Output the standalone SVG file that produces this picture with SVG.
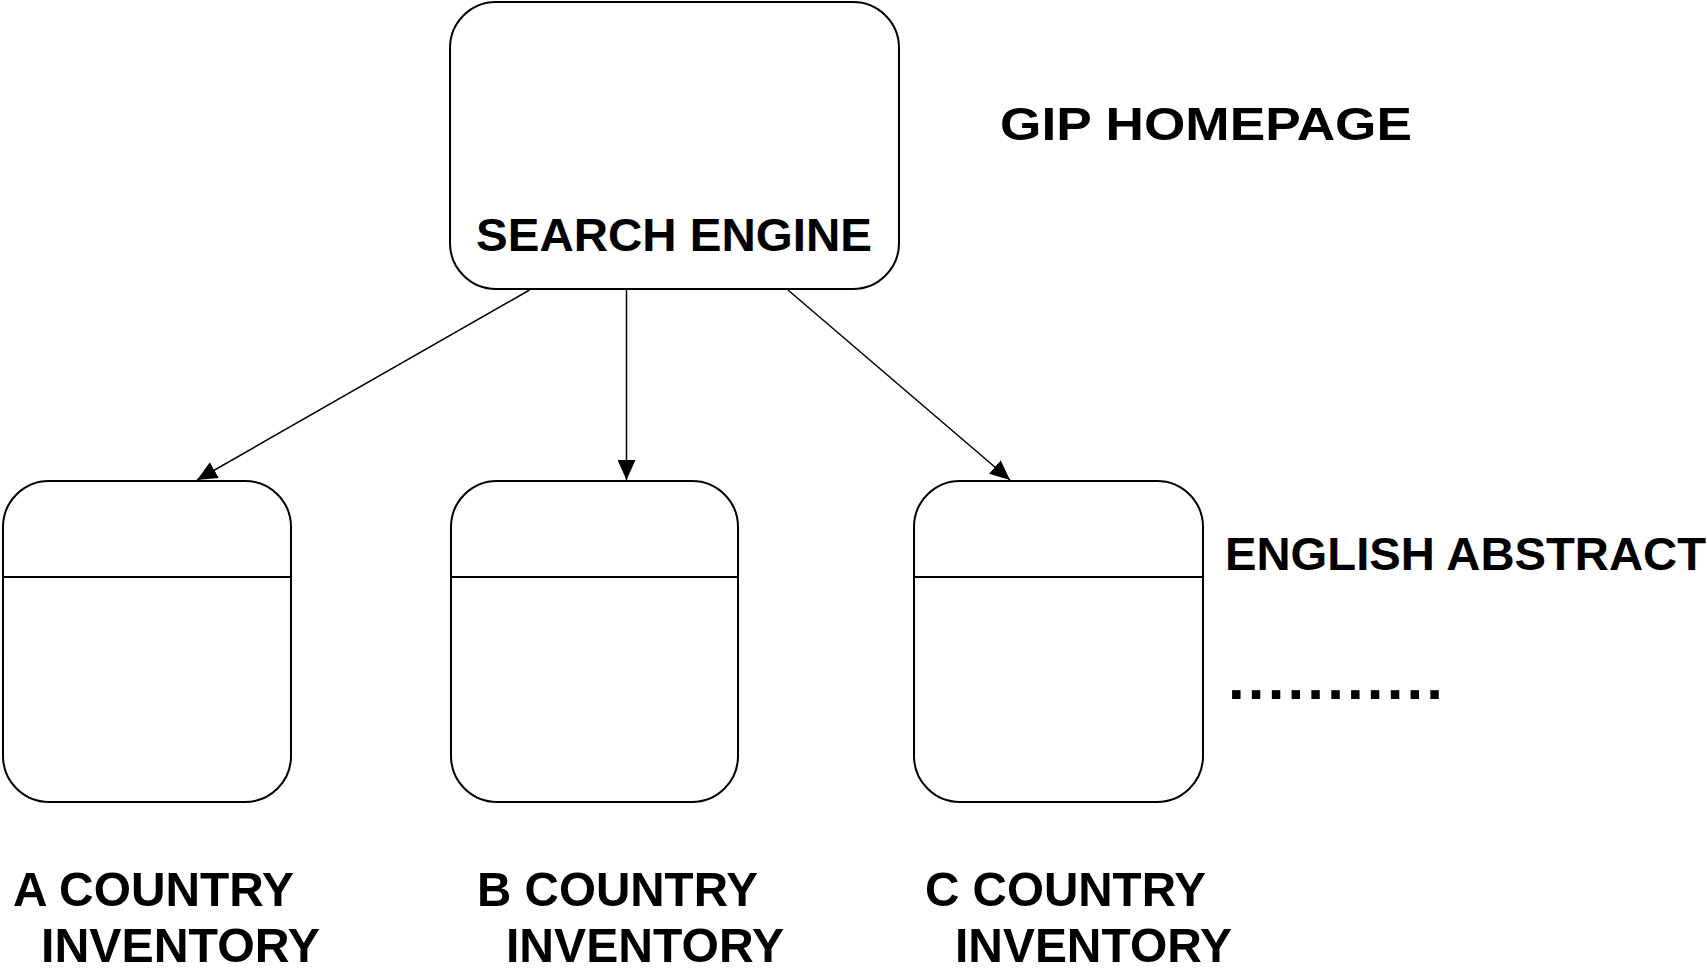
<svg xmlns="http://www.w3.org/2000/svg" width="1707" height="970" viewBox="0 0 1707 970">
<style>
  .box { fill: #ffffff; stroke: #000000; stroke-width: 2; }
  .div { stroke: #000000; stroke-width: 2; fill: none; }
  .conn { stroke: #000000; stroke-width: 1.5; fill: none; marker-end: url(#arrow); }
  .lbl { font-family: "Liberation Sans", Arial, sans-serif; font-weight: bold; font-size: 47px; fill: #000000; }
  .big { font-size: 49px; }
</style>
<defs>
  <marker id="arrow" markerUnits="userSpaceOnUse" viewBox="0 0 20 18" refX="20" refY="9" markerWidth="20" markerHeight="18" orient="auto">
    <path d="M0,0 L20,9 L0,18 z" fill="#000000"/>
  </marker>
</defs>
<rect width="1707" height="970" fill="#ffffff"/>
<g id="connectors">
  <line class="conn" x1="529.5" y1="290" x2="197" y2="480"/>
  <line class="conn" x1="626.5" y1="290" x2="626.5" y2="480"/>
  <line class="conn" x1="788" y1="290" x2="1010" y2="480"/>
</g>
<g id="search-engine">
  <rect class="box" x="450" y="2" width="449" height="287" rx="46" ry="46"/>
  <text class="lbl" x="476" y="251" textLength="396" lengthAdjust="spacingAndGlyphs">SEARCH ENGINE</text>
</g>
<g id="gip-homepage">
  <text class="lbl" x="1000" y="140" textLength="412" lengthAdjust="spacingAndGlyphs">GIP HOMEPAGE</text>
</g>
<g id="country-a">
  <rect class="box" x="3" y="481" width="288" height="321" rx="46" ry="46"/>
  <line class="div" x1="3" y1="577" x2="291" y2="577"/>
  <text class="lbl big" x="13" y="906" textLength="281" lengthAdjust="spacingAndGlyphs">A COUNTRY</text>
  <text class="lbl big" x="41" y="962" textLength="279" lengthAdjust="spacingAndGlyphs">INVENTORY</text>
</g>
<g id="country-b">
  <rect class="box" x="451" y="481" width="287" height="321" rx="46" ry="46"/>
  <line class="div" x1="451" y1="577" x2="738" y2="577"/>
  <text class="lbl big" x="477" y="906" textLength="281" lengthAdjust="spacingAndGlyphs">B COUNTRY</text>
  <text class="lbl big" x="506" y="962" textLength="278" lengthAdjust="spacingAndGlyphs">INVENTORY</text>
</g>
<g id="country-c">
  <rect class="box" x="914" y="481" width="289" height="321" rx="46" ry="46"/>
  <line class="div" x1="914" y1="577" x2="1203" y2="577"/>
  <text class="lbl big" x="925" y="906" textLength="281" lengthAdjust="spacingAndGlyphs">C COUNTRY</text>
  <text class="lbl big" x="955" y="962" textLength="277" lengthAdjust="spacingAndGlyphs">INVENTORY</text>
</g>
<g id="english-abstract">
  <text class="lbl" x="1225" y="570" textLength="481" lengthAdjust="spacingAndGlyphs">ENGLISH ABSTRACT</text>
  <text class="lbl" x="1228" y="699" style="font-size:60px" textLength="215" lengthAdjust="spacing">...........</text>
</g>
</svg>
